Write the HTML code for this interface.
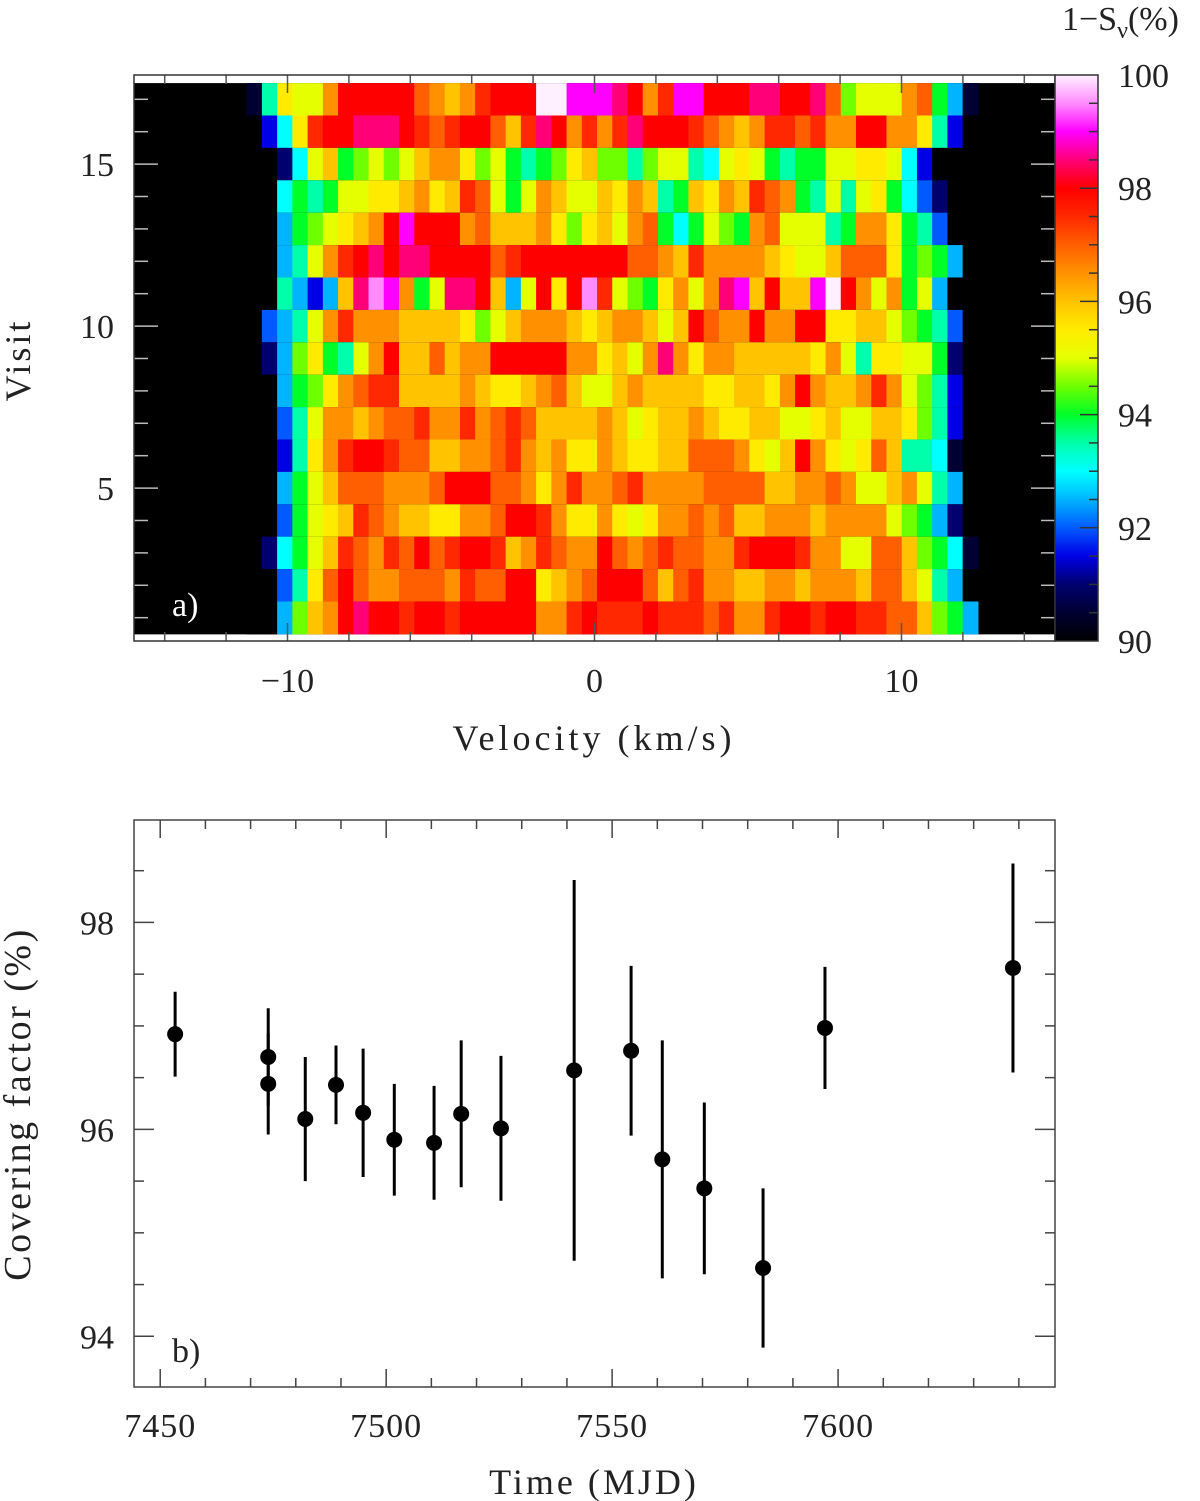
<!DOCTYPE html>
<html><head><meta charset="utf-8">
<style>
html,body{margin:0;padding:0;background:#fff;}
svg{display:block;}
text{font-family:"Liberation Serif","DejaVu Serif",serif;fill:#222;}
</style></head>
<body>
<svg id="fig" width="1200" height="1501" viewBox="0 0 1200 1501" xmlns="http://www.w3.org/2000/svg">
<g id="pa"></g>
<g id="pb"></g>
</svg>
<script>
// ---------- Panel a data ----------
// visits 17 (top) .. 1 (bottom); one char per velocity bin, value = 90 + 0.5*code ('0'..'9','a'..'k')
const visitRows = [
"17baadgggggedcdfgggkkiiihgdfiiggghhgghe9aaade851",
"036bfgghhhgfefggecfhgdfdfhgggfedcdffefddggddb730",
"0026ac89a9acddb9a8789bc9979aa76aba8788aabba63000",
"006878aabbcdbcfea8adcaacbdc78cbdcfed87a7ab864200",
"00589abcdgigggdecccdb9bcade868a98deaaa78ddb87400",
"0057adfghghhggggefgggggggeedcfddddcbaaceeeb89850",
"007535chjid8ahhgc5agbgjfa98bdadhicgccikgdad8a500",
"0457adfdddccccb9acdddcbcddcacgeddgddggbbcca98740",
"0259b87adgccecddgggggddbcadhdbddcccccbda7bbaa820",
"00589bdeffccccdcbbcdecaacdccccbbccbdgdccdfda9730",
"0047addcdeefddfdefeccccdcabccdcbbccaabcaaccb9730",
"0037bdfggfeeccddefdcdbbdcbbcceeedbacgdbabec77610",
"0058aceeedddegggeedbdfddefddddeeeeccddedaacda750",
"0048abcfedccbbddeggfdbbdbabddedeccdddcdddda98520",
"0268acfedfegefggfcdfeddgedefeeddfgggfddaaeec9861",
"0047begeddeeedfeeggbcdegggecefddccddcdddceeca750",
"0059cdghggfggfgggggddfgfffgfffefddfggfggffeec985"
];
const visitNumbers = [17,16,15,14,13,12,11,10,9,8,7,6,5,4,3,2,1];
const vStart = -11.33, vStep = 0.4962;
const xTicksA = [-10,0,10];
const yTicksA = [5,10,15];
const cbTicks = [90,92,94,96,98,100];
// ---------- Panel b data ----------
const times = [7453.3,7473.9,7473.9,7482.1,7488.9,7494.9,7501.8,7510.6,7516.6,7525.4,7541.6,7554.2,7561.1,7570.4,7583.4,7597.1,7638.7];
const cover = [96.92,96.70,96.44,96.10,96.43,96.16,95.90,95.87,96.15,96.01,96.57,96.76,95.71,95.43,94.66,96.98,97.56];
const coverErr = [0.41,0.47,0.49,0.60,0.38,0.62,0.54,0.55,0.71,0.70,1.84,0.82,1.15,0.83,0.77,0.59,1.01];
const xTicksB = [7450,7500,7550,7600];
const yTicksB = [94,96,98];

const NS="http://www.w3.org/2000/svg";
function mk(tag,attrs,parent){const e=document.createElementNS(NS,tag);for(const k in attrs)e.setAttribute(k,attrs[k]);parent.appendChild(e);return e;}
const stops=[[90,0,0,0],[90.5,0,0,50],[91,0,0,110],[91.5,0,0,230],[92,0,90,255],[92.5,0,180,255],[93,0,255,255],[93.5,0,255,170],[94,0,255,40],[94.5,110,255,0],[95,230,255,0],[95.5,255,235,0],[96,255,195,0],[96.5,255,145,0],[97,255,95,0],[97.5,255,40,0],[98,255,0,0],[98.5,255,0,120],[99,255,0,255],[99.5,255,140,255],[100,255,240,255]];
function cmap(v){v=Math.max(90,Math.min(100,v));for(let i=0;i<stops.length-1;i++){const a=stops[i],b=stops[i+1];if(v<=b[0]){const t=(v-a[0])/(b[0]-a[0]);return `rgb(${Math.round(a[1]+t*(b[1]-a[1]))},${Math.round(a[2]+t*(b[2]-a[2]))},${Math.round(a[3]+t*(b[3]-a[3]))})`;}}return "rgb(255,240,255)";}
function code(c){return c<="9"?(c.charCodeAt(0)-48):(c.charCodeAt(0)-87);}

// ---------- Panel a ----------
const pa=document.getElementById('pa');
const AL=134,AR=1055,AT=75,AB=641;
const axV=v=>AL+(v+15)/30*(AR-AL);
const axY=n=>AT+(17.75-n)/(17.75-0.28)*(AB-AT);
mk('rect',{x:AL,y:AT,width:AR-AL,height:AB-AT,fill:'#fff'},pa);
visitRows.forEach((row,ri)=>{
  const n=visitNumbers[ri];
  const y0=axY(n+0.5),y1=axY(n-0.5);
  const bg=mk('rect',{x:AL,y:y0,width:AR-AL,height:y1-y0+0.5,fill:'#000'},pa);
  
  
  for(let j=0;j<row.length;j++){
    const val=90+0.5*code(row[j]);
    const xa=axV(vStart+j*vStep),xb=axV(vStart+(j+1)*vStep);
    const r=mk('rect',{x:xa,y:y0,width:xb-xa+0.6,height:y1-y0+0.5,fill:cmap(val)},pa);
    
    
  }
});
const tk={stroke:'#555','stroke-width':1.5};
for(let v=-14;v<=14;v+=2){const x=axV(v);const L=(v%10===0)?18:9;
  mk('line',Object.assign({x1:x,y1:AB,x2:x,y2:AB-L},tk),pa);mk('line',Object.assign({x1:x,y1:AT,x2:x,y2:AT+L},tk),pa);}
for(let n=1;n<=17;n++){const y=axY(n);const L=(n%5===0)?24:14;
  mk('line',{x1:AL,y1:y,x2:AL+L,y2:y,stroke:'#bbb','stroke-width':1.5},pa);mk('line',{x1:AR,y1:y,x2:AR-L,y2:y,stroke:'#bbb','stroke-width':1.5},pa);}
const fa=mk('rect',{x:AL,y:AT,width:AR-AL,height:AB-AT,fill:'none',stroke:'#333','stroke-width':1.5},pa);

xTicksA.forEach(v=>{const t=mk('text',{x:axV(v),y:692,'font-size':34,'text-anchor':'middle'},pa);t.textContent=v<0?'\u2212'+Math.abs(v):String(v);
  });
yTicksA.forEach(n=>{const t=mk('text',{x:114,y:axY(n)+12,'font-size':34,'text-anchor':'end'},pa);t.textContent=n;
  });
let t=mk('text',{x:594,y:750,'font-size':36,'text-anchor':'middle','letter-spacing':'4'},pa);t.textContent='Velocity (km/s)';

t=mk('text',{x:30,y:360,'font-size':36,'text-anchor':'middle','letter-spacing':'3',transform:'rotate(-90 30 360)'},pa);t.textContent='Visit';

t=mk('text',{x:172,y:616,'font-size':34,fill:'#fff',style:'fill:#fff'},pa);t.textContent='a)';

const CL=1055,CR=1098;
const cbY=v=>AB-(v-90)/10*(AB-AT);
const defs=mk('defs',{},pa);const lg=mk('linearGradient',{id:'cbg',x1:0,y1:1,x2:0,y2:0},defs);
for(let v=90;v<=100.001;v+=0.25){mk('stop',{offset:((v-90)/10).toFixed(3),'stop-color':cmap(v)},lg);}
const cb=mk('rect',{x:CL,y:AT,width:CR-CL,height:AB-AT,fill:'url(#cbg)',stroke:'#333','stroke-width':1.5},pa);

for(let v=90.5;v<100;v+=0.5){const y=cbY(v);const L=(Math.abs(v%2)<0.01)?18:9;mk('line',{x1:CR,y1:y,x2:CR-L,y2:y,stroke:'#333','stroke-width':1.5},pa);}
cbTicks.forEach(v=>{const tt=mk('text',{x:1118,y:cbY(v)+12,'font-size':34},pa);tt.textContent=v;
  });
t=mk('text',{x:1062,y:30,'font-size':34},pa);t.innerHTML='1\u2212S<tspan font-size="24" dy="8">\u03bd</tspan><tspan dy="-8">(%)</tspan>';


// ---------- Panel b ----------
const pb=document.getElementById('pb');
const BL=134,BR=1055,BT=820,BB=1387;
const X0=7444.2,X1=7648.0,Y0=93.51,Y1=98.99;
const bx=v=>BL+(v-X0)/(X1-X0)*(BR-BL);
const by=v=>BB-(v-Y0)/(Y1-Y0)*(BB-BT);
const fb=mk('rect',{x:BL,y:BT,width:BR-BL,height:BB-BT,fill:'none',stroke:'#444','stroke-width':1.5},pb);

for(let v=7450;v<=7640;v+=10){const x=bx(v);const L=(v%50===0)?18:9;
  mk('line',{x1:x,y1:BB,x2:x,y2:BB-L,stroke:'#444','stroke-width':1.5},pb);mk('line',{x1:x,y1:BT,x2:x,y2:BT+L,stroke:'#444','stroke-width':1.5},pb);}
for(let v=94;v<=98.9;v+=0.5){const y=by(v);const L=(Math.abs(v%2)<0.01)?20:10;
  mk('line',{x1:BL,y1:y,x2:BL+L,y2:y,stroke:'#444','stroke-width':1.5},pb);mk('line',{x1:BR,y1:y,x2:BR-L,y2:y,stroke:'#444','stroke-width':1.5},pb);}
xTicksB.forEach(v=>{const tt=mk('text',{x:bx(v),y:1437,'font-size':34,'text-anchor':'middle','letter-spacing':'1'},pb);tt.textContent=v;
  });
yTicksB.forEach(v=>{const tt=mk('text',{x:114,y:by(v)+12,'font-size':34,'text-anchor':'end'},pb);tt.textContent=v;
  });
t=mk('text',{x:594,y:1494,'font-size':36,'text-anchor':'middle','letter-spacing':'3'},pb);t.textContent='Time (MJD)';

t=mk('text',{x:30,y:1104,'font-size':38,'text-anchor':'middle',transform:'rotate(-90 30 1104)','letter-spacing':'2.5'},pb);t.textContent='Covering factor (%)';

t=mk('text',{x:172,y:1362,'font-size':34},pb);t.textContent='b)';

times.forEach((tm,i)=>{
  const x=bx(tm);
  const eb=mk('line',{x1:x,y1:by(cover[i]-coverErr[i]),x2:x,y2:by(cover[i]+coverErr[i]),stroke:'#000','stroke-width':3},pb);
  
  const c=mk('circle',{cx:x,cy:by(cover[i]),r:8,fill:'#000'},pb);
  
});
</script>
</body></html>
